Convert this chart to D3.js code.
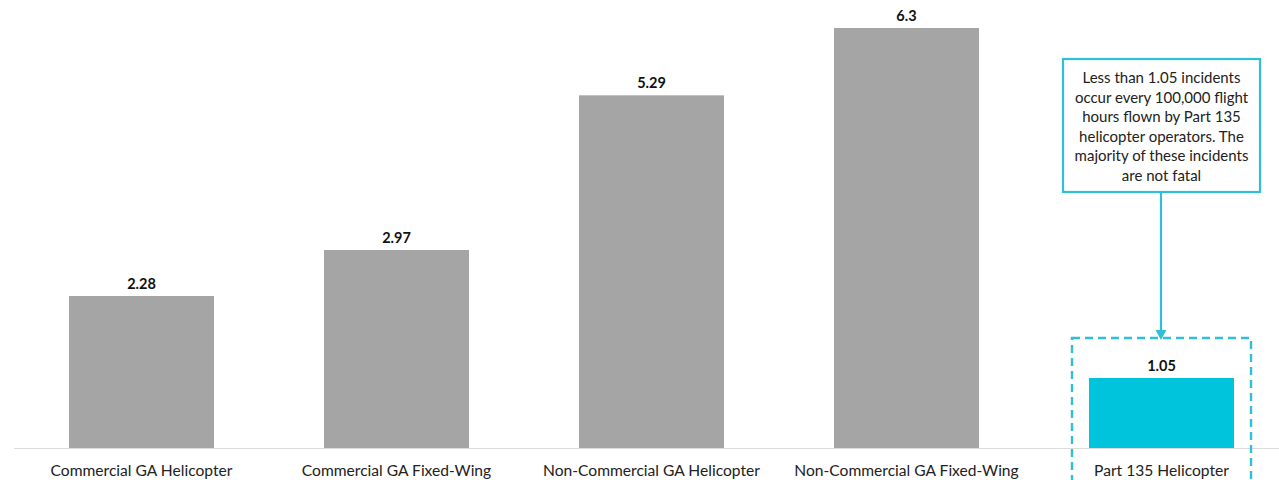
<!DOCTYPE html>
<html>
<head>
<meta charset="utf-8">
<script src="https://cdn.jsdelivr.net/npm/d3@7"></script>
<style>
  html, body { margin: 0; padding: 0; background: #fff; }
  svg { display: block; }
</style>
</head>
<body>
<svg id="chart" width="1279" height="480"></svg>
<script>
const categories = [
  "Commercial GA Helicopter",
  "Commercial GA Fixed-Wing",
  "Non-Commercial GA Helicopter",
  "Non-Commercial GA Fixed-Wing",
  "Part 135 Helicopter"
];
const values = [2.28, 2.97, 5.29, 6.3, 1.05];
const valueLabels = ["2.28", "2.97", "5.29", "6.3", "1.05"];
const highlightCategory = "Part 135 Helicopter";
const annotationLines = [
  "Less than 1.05 incidents",
  "occur every 100,000 flight",
  "hours flown by Part 135",
  "helicopter operators. The",
  "majority of these incidents",
  "are not fatal"
];

const W = 1279, H = 480;
const FONT = "Lato, 'Open Sans', sans-serif";
const svg = d3.select("#chart");

const x = d3.scaleBand()
  .domain(categories)
  .range([14, 1289])
  .paddingInner(0.4314)
  .paddingOuter(0.2157);

const baseY = 448;
const y = d3.scaleLinear().domain([0, 6.3]).range([baseY, 28]);

// baseline axis
svg.append("line")
  .attr("x1", 14).attr("x2", W)
  .attr("y1", baseY + 0.5).attr("y2", baseY + 0.5)
  .attr("stroke", "#dcdcdc").attr("stroke-width", 1);

// bars
svg.selectAll("rect.bar")
  .data(categories)
  .join("rect")
  .attr("class", "bar")
  .attr("x", d => x(d))
  .attr("width", x.bandwidth())
  .attr("y", (d, i) => y(values[i]))
  .attr("height", (d, i) => baseY - y(values[i]))
  .attr("fill", d => d === highlightCategory ? "#00c3dc" : "#a5a5a5");

// value labels
svg.selectAll("text.val")
  .data(categories)
  .join("text")
  .attr("class", "val")
  .attr("x", d => x(d) + x.bandwidth() / 2)
  .attr("y", (d, i) => y(values[i]) - 7)
  .attr("text-anchor", "middle")
  .attr("font-family", FONT)
  .attr("font-weight", "bold")
  .attr("font-size", 14.5)
  .attr("fill", "#111")
  .text((d, i) => valueLabels[i]);

// category labels
svg.selectAll("text.cat")
  .data(categories)
  .join("text")
  .attr("class", "cat")
  .attr("x", d => x(d) + x.bandwidth() / 2)
  .attr("y", 476)
  .attr("text-anchor", "middle")
  .attr("font-family", FONT)
  .attr("font-size", 15.6)
  .attr("fill", "#222")
  .text(d => d);

// highlight dashed box
const hx = x(highlightCategory) + x.bandwidth() / 2;
const accent = "#2fbfd6";
svg.append("rect")
  .attr("x", hx - 89.5).attr("y", 338)
  .attr("width", 179).attr("height", 160)
  .attr("fill", "none")
  .attr("stroke", accent)
  .attr("stroke-width", 2.4)
  .attr("stroke-dasharray", "8,5");

// annotation box
const boxX = 1063, boxY = 59, boxW = 197, boxH = 133;
svg.append("rect")
  .attr("x", boxX).attr("y", boxY)
  .attr("width", boxW).attr("height", boxH)
  .attr("fill", "#fff")
  .attr("stroke", accent)
  .attr("stroke-width", 2.2);

svg.append("text")
  .attr("text-anchor", "middle")
  .attr("font-family", FONT)
  .attr("font-size", 15)
  .attr("fill", "#222")
  .selectAll("tspan")
  .data(annotationLines)
  .join("tspan")
  .attr("x", boxX + boxW / 2)
  .attr("y", (d, i) => 83 + i * 19.6)
  .text(d => d);

// arrow
const ax = boxX + boxW / 2 - 0.5;
svg.append("line")
  .attr("x1", ax).attr("x2", ax)
  .attr("y1", boxY + boxH).attr("y2", 331)
  .attr("stroke", accent).attr("stroke-width", 2.2);
svg.append("path")
  .attr("d", `M${ax - 5.5},330 L${ax + 5.5},330 L${ax},340 Z`)
  .attr("fill", accent);
</script>
</body>
</html>
